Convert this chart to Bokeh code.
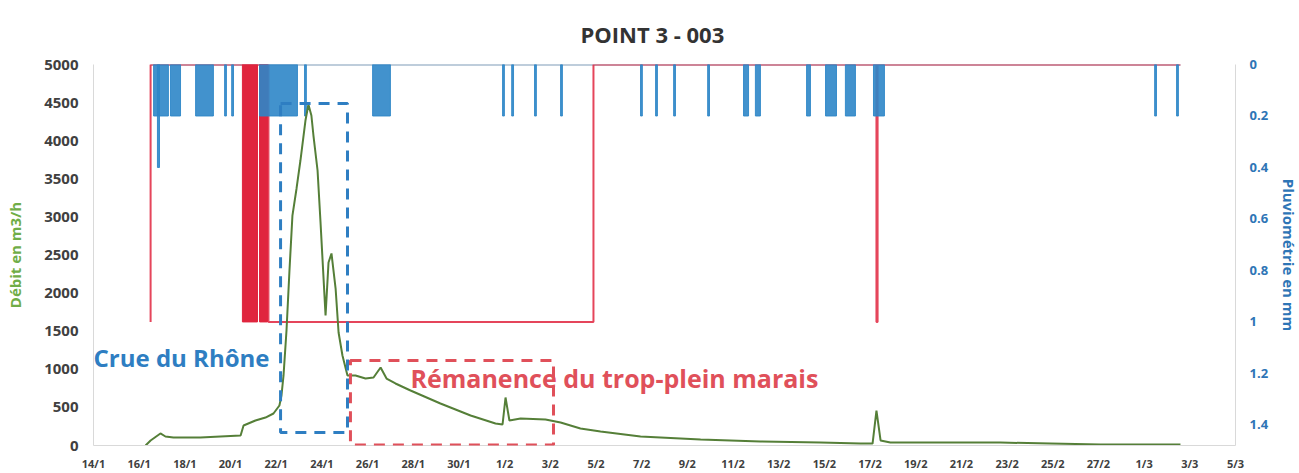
from bokeh.plotting import figure
from bokeh.models import (Range1d, LinearAxis, FixedTicker, Label, BoxAnnotation,
                          CustomJSTickFormatter)
from bokeh.embed import file_html
from bokeh.resources import INLINE

# ---------------- data (x = days since 14/1) ----------------
tick_days = list(range(0, 51, 2))
tick_labels = ["14/1", "16/1", "18/1", "20/1", "22/1", "24/1", "26/1", "28/1", "30/1",
               "1/2", "3/2", "5/2", "7/2", "9/2", "11/2", "13/2", "15/2", "17/2", "19/2",
               "21/2", "23/2", "25/2", "27/2", "1/3", "3/3", "5/3"]

flow_day = [2.28, 2.50, 2.93, 3.15, 3.50, 4.68, 6.44, 6.57, 7.09, 7.53, 7.88, 8.14, 8.23,
            8.32, 8.45, 8.58, 8.71, 8.89, 9.06, 9.28, 9.41, 9.54, 9.63, 9.81, 9.94,
            10.16, 10.29, 10.42, 10.60, 10.73, 10.90, 11.12, 11.47, 11.91, 12.26, 12.57,
            12.83, 13.22, 13.88, 15.19, 16.51, 17.60, 17.91, 18.04, 18.21, 18.70, 19.79,
            20.45, 21.32, 22.20, 23.95, 26.58, 29.20, 31.83, 33.58, 34.11, 34.28, 34.46,
            34.89, 37.52, 39.71, 41.90, 44.09, 47.59]
flow_m3h = [0, 66, 158, 118, 105, 105, 131, 262, 328, 367, 420, 525, 656,
            919, 1509, 2297, 3018, 3373, 3740, 4265, 4475, 4331, 4068, 3609, 2927,
            1706, 2402, 2520, 2060, 1483, 1181, 919, 919, 879, 892, 1024,
            879, 814, 722, 551, 394, 289, 276, 630, 328, 354, 341,
            302, 223, 184, 118, 79, 52, 39, 26, 26, 459, 66,
            39, 39, 39, 26, 13, 13]

rain_start = [2.63, 3.37, 2.80, 4.47, 5.74, 6.05, 7.27, 9.24, 12.22, 17.91, 18.31, 19.31,
              20.45, 23.95, 24.61, 25.40, 26.89, 28.46, 28.98, 31.22, 32.05, 32.92, 34.15,
              46.46, 47.42]
rain_end = [3.28, 3.81, 2.89, 5.25, 5.82, 6.13, 8.93, 9.32, 13.00, 17.99, 18.39, 19.39,
            20.53, 24.03, 24.69, 25.48, 26.97, 28.68, 29.20, 31.39, 32.53, 33.36, 34.63,
            46.54, 47.50]
rain_mm = [0.2, 0.2, 0.4, 0.2, 0.2, 0.2, 0.2, 0.2, 0.2, 0.2, 0.2, 0.2,
           0.2, 0.2, 0.2, 0.2, 0.2, 0.2, 0.2, 0.2, 0.2, 0.2, 0.2,
           0.2, 0.2]
rain_record_day = [2.50, 47.59]
rain_record_mm = [0, 0]

overflow_day = [2.50, 2.50, 7.66, 7.66, 21.89, 21.89, 34.28, 34.28, 34.33, 34.33, 47.59]
overflow_state = [1, 0, 0, 1, 1, 0, 0, 1, 1, 0, 0]
burst_start = [6.52, 7.27]
burst_end = [7.18, 7.62]
burst_low = [0, 0]
burst_high = [1, 1]

# ---------------- figure ----------------
FONT = "Open Sans"
GREEN = "#557F38"
RED = "#E0253E"
BLUE = "#2E86C8"

p = figure(frame_width=1142, frame_height=381, output_backend="svg", toolbar_location=None,
           x_range=Range1d(0, 50), y_range=Range1d(0, 5000),
           min_border_left=93, min_border_right=60, min_border_top=64, min_border_bottom=26)
p.extra_y_ranges = {"rain": Range1d(start=1.48, end=0)}
p.outline_line_color = None
p.xgrid.visible = False
p.ygrid.visible = False
p.background_fill_color = "white"

p.title.text = "POINT 3 - 003"
p.title.align = "left"
p.title.text_font = FONT
p.title.text_font_size = "22px"
p.title.text_font_style = "bold"
p.title.text_color = "#333333"
p.title.offset = 487
p.title.standoff = 31

# x axis
xa = p.xaxis[0]
xa.ticker = FixedTicker(ticks=tick_days)
xa.major_label_overrides = {d: lab for d, lab in zip(tick_days, tick_labels)}
xa.major_label_text_font = FONT
xa.major_label_text_font_size = "11px"
xa.major_label_text_font_style = "bold"
xa.major_label_text_color = "#404040"
xa.major_label_standoff = 10
xa.major_tick_out = 0
xa.major_tick_in = 0
xa.minor_tick_out = 0
xa.minor_tick_in = 0
xa.major_tick_line_color = None
xa.minor_tick_line_color = None
xa.axis_line_color = "#D9D9D9"

# left axis
ya = p.yaxis[0]
ya.ticker = FixedTicker(ticks=list(range(0, 5001, 500)))
ya.major_label_text_font = FONT
ya.major_label_text_font_size = "15px"
ya.major_label_text_font_style = "bold"
ya.major_label_text_color = "#404040"
ya.major_label_standoff = 15
ya.major_tick_out = 0
ya.major_tick_in = 0
ya.minor_tick_out = 0
ya.minor_tick_in = 0
ya.major_tick_line_color = None
ya.minor_tick_line_color = None
ya.axis_line_color = "#D9D9D9"
ya.axis_label = "Débit en m3/h"
ya.axis_label_text_font = FONT
ya.axis_label_text_font_size = "15px"
ya.axis_label_text_font_style = "bold"
ya.axis_label_text_color = "#70AD47"
ya.axis_label_standoff = 16

# right axis
ra = LinearAxis(y_range_name="rain", ticker=FixedTicker(ticks=[0, 0.2, 0.4, 0.6, 0.8, 1.0, 1.2, 1.4]),
                formatter=CustomJSTickFormatter(code="return String(Math.round(tick*10)/10);"))
ra.major_label_text_font = FONT
ra.major_label_text_font_size = "13px"
ra.major_label_text_font_style = "bold"
ra.major_label_text_color = "#2E75B6"
ra.major_label_standoff = 14
ra.major_tick_out = 0
ra.major_tick_in = 0
ra.minor_tick_out = 0
ra.minor_tick_in = 0
ra.major_tick_line_color = None
ra.minor_tick_line_color = None
ra.axis_line_color = "#D9D9D9"
ra.axis_label = "Pluviométrie en mm"
ra.axis_label_text_font = FONT
ra.axis_label_text_font_size = "15px"
ra.axis_label_text_font_style = "bold"
ra.axis_label_text_color = "#2E75B6"
ra.axis_label_standoff = 8
p.add_layout(ra, "right")

# rain baseline
p.line(rain_record_day, rain_record_mm, y_range_name="rain", line_color="#7F9CB8", line_width=2)

# overflow (red, secondary axis, 0/1)
p.quad(left=burst_start, right=burst_end, bottom=burst_low, top=burst_high,
       y_range_name="rain", fill_color=RED, line_color=RED, line_width=1)
p.line(overflow_day, overflow_state, y_range_name="rain", line_color=RED, line_width=2, line_alpha=0.85)

# rain bars
p.quad(left=rain_start, right=rain_end, bottom=rain_mm, top=[0] * len(rain_mm),
       y_range_name="rain", fill_color=BLUE, line_color=BLUE, fill_alpha=0.9, line_alpha=0.9,
       line_width=1)

# flow
p.line(flow_day, flow_m3h, line_color=GREEN, line_width=2)

# annotations
p.add_layout(BoxAnnotation(left=8.19, right=11.12, bottom=171, top=4488,
                           fill_alpha=0, line_color="#2E7EC2", line_alpha=1, line_width=3,
                           line_dash="11 8"))
p.add_layout(BoxAnnotation(left=11.25, right=20.14, bottom=8, top=1115,
                           fill_alpha=0, line_color="#E0505A", line_alpha=1, line_width=3,
                           line_dash="11 8"))

p.add_layout(Label(x=0.0, y=1155, text="Crue du Rhône", text_font=FONT,
                   text_font_size="24px", text_font_style="bold", text_color="#2E7EC2",
                   text_baseline="middle", text_align="left"))
p.add_layout(Label(x=13.88, y=892, text="Rémanence du trop-plein marais", text_font=FONT,
                   text_font_size="25px", text_font_style="bold", text_color="#E0505A",
                   text_baseline="middle", text_align="left"))

open("out.html", "w").write(file_html(p, INLINE))
